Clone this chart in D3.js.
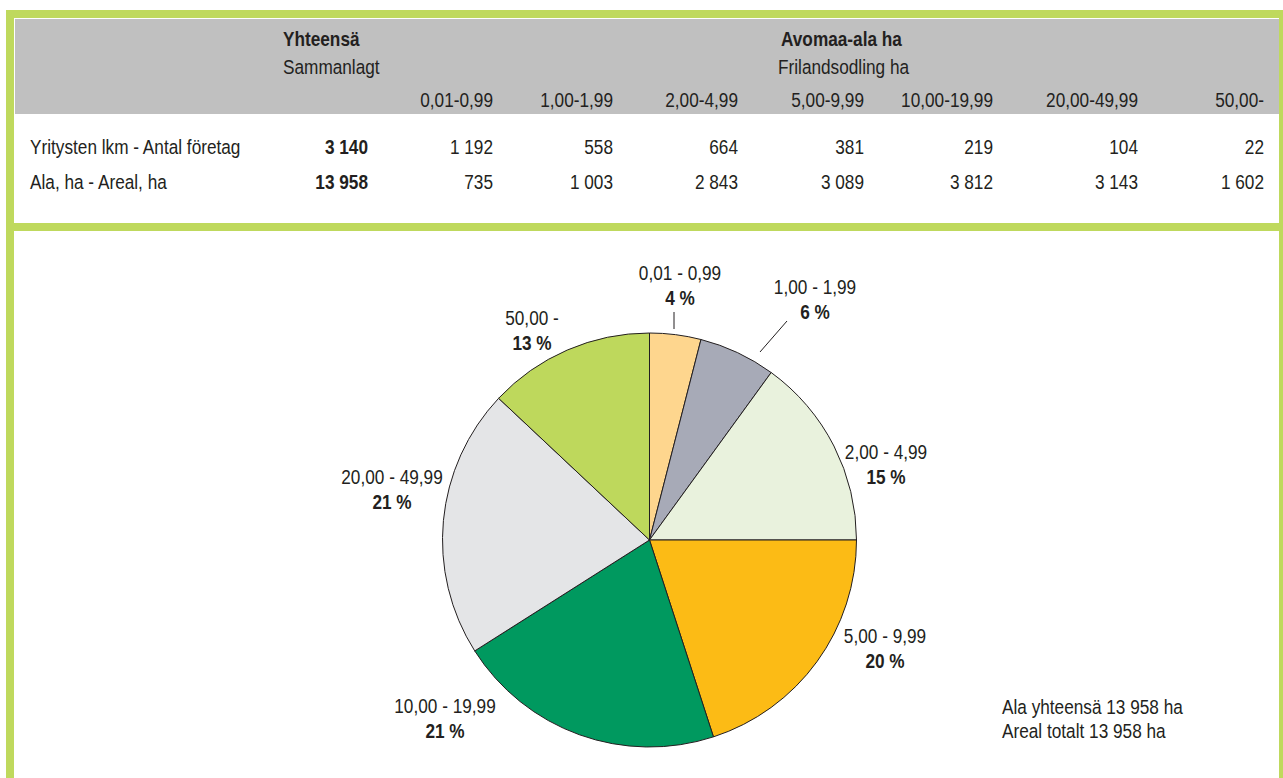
<!DOCTYPE html>
<html>
<head>
<meta charset="utf-8">
<script src="https://cdn.jsdelivr.net/npm/d3@7"></script>
<style>
  html, body { margin: 0; padding: 0; background: #ffffff; }
  svg { display: block; }
  text { fill: #231f20; }
</style>
</head>
<body>
<svg id="chart" width="1283" height="778"></svg>
<script>
// Size classes of open-field area (ha)
const sizeClasses = ["0,01-0,99", "1,00-1,99", "2,00-4,99", "5,00-9,99", "10,00-19,99", "20,00-49,99", "50,00-"];
const pieLabels = ["0,01 - 0,99", "1,00 - 1,99", "2,00 - 4,99", "5,00 - 9,99", "10,00 - 19,99", "20,00 - 49,99", "50,00 -"];
// Number of enterprises per size class
const firmCounts = [1192, 558, 664, 381, 219, 104, 22];
// Area in hectares per size class
const areaHa = [735, 1003, 2843, 3089, 3812, 3143, 1602];
const totalFirms = 3140;
const totalArea = 13958;
// Share of area (%) as published in the chart labels
const areaShares = [4, 6, 15, 20, 21, 21, 13];
const rowLabels = ["Yritysten lkm - Antal företag", "Ala, ha - Areal, ha"];
const sliceColors = ["#fed68e", "#a7aab7", "#e9f2dd", "#fcbb15", "#00995f", "#e4e5e7", "#bed85c"];

// ---- layout ----
const W = 1283, H = 778;
const FS = 20.5;          // font size
const green = "#bfd95d";
const headerGray = "#c0c0c0";
const colRight = [493, 613, 738, 864, 993, 1138, 1264];
const totalRight = 368;
const pieCx = 649.5, pieCy = 540, pieR = 207;
// first-line baseline of each slice label, relative to the pie centre
const labelOffsets = [[30.5, -260], [165.5, -246], [236.5, -81], [235.5, 103], [-204.5, 173], [-257.5, -56], [-117.5, -215]];
// leader lines for the two narrow slices
const leaders = [{i: 0, a: [24.5, -211], b: [24.5, -228]}, {i: 1, a: [110.5, -188], b: [137.5, -219]}];

const fmt = d3.formatLocale({decimal: ",", thousands: " ", grouping: [3], currency: ["", ""]}).format(",d");

const svg = d3.select("#chart");

// Use a narrow face when one is available, otherwise condense the regular one.
const REG = '"Liberation Sans", Arial, sans-serif';
const NAR = '"Liberation Sans Narrow", "Arial Narrow"';
function measure(family) {
  const t = svg.append("text").attr("font-family", family).attr("font-size", 100).text("Yritysten lkm 0123456789");
  const w = t.node().getComputedTextLength();
  t.remove();
  return w;
}
const wReg = measure(REG);
const wNar = measure(NAR + ", " + REG);
const hasNarrow = wNar < wReg * 0.9;
const FAMILY = hasNarrow ? NAR + ", " + REG : REG;
const SX = hasNarrow ? 0.84 * wReg / wNar : 0.84;

function text(g, x, y, s, opt = {}) {
  return g.append("text")
    .attr("transform", `translate(${x},${y}) scale(${SX},1)`)
    .attr("font-family", FAMILY)
    .attr("text-anchor", opt.anchor || "start")
    .attr("font-size", opt.size || FS)
    .attr("font-weight", opt.bold ? "bold" : "normal")
    .text(s);
}

// ---- frame ----
svg.append("rect").attr("x", 0).attr("y", 0).attr("width", W).attr("height", H).attr("fill", "#fff");
svg.append("rect").attr("x", 15).attr("y", 19).attr("width", 1264).attr("height", 95).attr("fill", headerGray);
svg.append("rect").attr("x", 7).attr("y", 10).attr("width", 1276).attr("height", 8).attr("fill", green);
svg.append("rect").attr("x", 6).attr("y", 10).attr("width", 8).attr("height", H - 10).attr("fill", green);
svg.append("rect").attr("x", 1279).attr("y", 10).attr("width", 4).attr("height", H - 10).attr("fill", green);
svg.append("rect").attr("x", 6).attr("y", 223).attr("width", 1273).attr("height", 8).attr("fill", green);

// ---- table ----
const table = svg.append("g");
text(table, 283, 46, "Yhteensä", {bold: true});
text(table, 283, 74, "Sammanlagt");
text(table, 781, 46, "Avomaa-ala ha", {bold: true});
text(table, 778, 74, "Frilandsodling ha");
sizeClasses.forEach((c, i) => text(table, colRight[i], 107, c, {anchor: "end"}));

const rows = [{label: rowLabels[0], total: totalFirms, vals: firmCounts, y: 154},
              {label: rowLabels[1], total: totalArea, vals: areaHa, y: 188.5}];
rows.forEach(r => {
  text(table, 30, r.y, r.label);
  text(table, totalRight, r.y, fmt(r.total), {anchor: "end", bold: true});
  r.vals.forEach((v, i) => text(table, colRight[i], r.y, fmt(v), {anchor: "end"}));
});

// ---- pie ----
const pie = d3.pie().sort(null).value(d => d)(areaShares);
const arc = d3.arc().innerRadius(0).outerRadius(pieR);
const pg = svg.append("g").attr("transform", `translate(${pieCx},${pieCy})`);
pg.selectAll("path.slice").data(pie).join("path")
  .attr("class", "slice")
  .attr("d", arc)
  .attr("fill", (d, i) => sliceColors[i])
  .attr("stroke", "#231f20")
  .attr("stroke-width", 1)
  .attr("stroke-linejoin", "round");

leaders.forEach(l => {
  pg.append("line")
    .attr("x1", l.a[0]).attr("y1", l.a[1])
    .attr("x2", l.b[0]).attr("y2", l.b[1])
    .attr("stroke", "#231f20").attr("stroke-width", 1);
});

pie.forEach((d, i) => {
  const [ox, oy] = labelOffsets[i];
  text(pg, ox, oy, pieLabels[i], {anchor: "middle"});
  text(pg, ox, oy + 24.5, `${d.data} %`, {anchor: "middle", bold: true});
});

// ---- total note ----
text(svg, 1002, 714, `Ala yhteensä ${fmt(totalArea)} ha`);
text(svg, 1002, 738, `Areal totalt ${fmt(totalArea)} ha`);
</script>
</body>
</html>
